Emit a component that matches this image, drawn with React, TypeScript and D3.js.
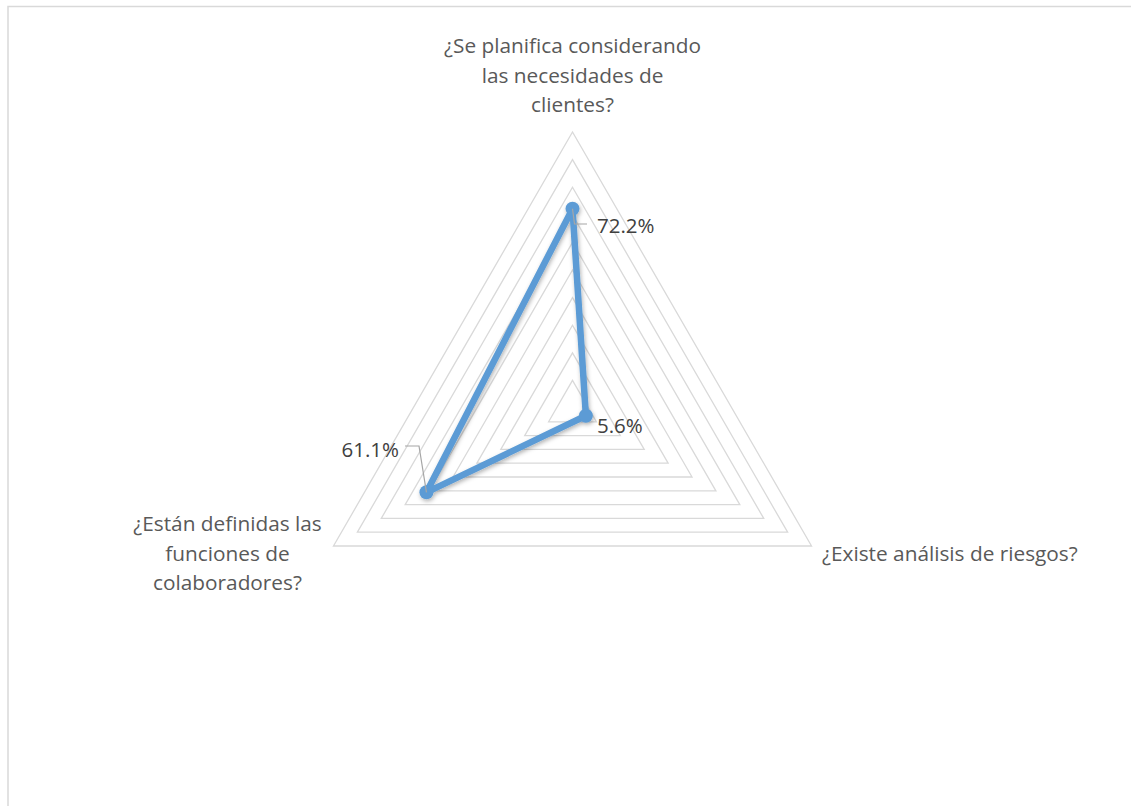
import React from "react";
import * as d3 from "d3";

const categories = [
  ["¿Se planifica considerando", "las necesidades de", "clientes?"],
  ["¿Existe análisis de riesgos?"],
  ["¿Están definidas las", "funciones de", "colaboradores?"],
];
const values = [0.722, 0.056, 0.611];
const valueLabels = ["72.2%", "5.6%", "61.1%"];
const gridLevels = [0.1, 0.2, 0.3, 0.4, 0.5, 0.6, 0.7, 0.8, 0.9, 1.0];

const W = 1131;
const H = 806;
const cx = 572.5;
const cy = 408;
const R = 276;
const FONT = "'Open Sans', sans-serif";

export default function App() {
  const n = categories.length;
  const angle = d3.scaleLinear().domain([0, n]).range([0, 2 * Math.PI]);
  const r = d3.scaleLinear().domain([0, 1]).range([0, R]);
  const pt = (i: number, v: number): [number, number] => {
    const a = angle(i);
    return [cx + r(v) * Math.sin(a), cy - r(v) * Math.cos(a)];
  };
  const radial = d3.line<[number, number]>().curve(d3.curveLinearClosed);
  const pts = values.map((v, i) => pt(i, v));

  const catPos = [
    { x: cx, y: 45, anchor: "middle" },
    { x: 822, y: 553, anchor: "start" },
    { x: 227.5, y: 523, anchor: "middle" },
  ];
  const valPos = [
    { x: 597, y: 225, anchor: "start" },
    { x: 597, y: 425, anchor: "start" },
    { x: 399, y: 449, anchor: "end" },
  ];
  const leaders = [
    [pts[0], [pts[0][0] + 2, 224], [587, 224]],
    null,
    [[405, 446], [419, 446], pts[2]],
  ];

  return (
    <svg
      width={W}
      height={H}
      style={{ position: "absolute", left: 0, top: 0, background: "#fff" }}
    >
      <defs>
        <filter id="sh" x="-20%" y="-20%" width="140%" height="140%">
          <feDropShadow dx="1" dy="2" stdDeviation="2" floodColor="#000" floodOpacity="0.3" />
        </filter>
      </defs>
      <rect x={8} y={6.5} width={W} height={H} fill="#fff" stroke="#d9d9d9" strokeWidth={1.5} />
      {gridLevels.map((g) => (
        <path
          key={g}
          d={radial(d3.range(n).map((i) => pt(i, g))) || ""}
          fill="none"
          stroke="#d9d9d9"
          strokeWidth={1.3}
        />
      ))}
      <g filter="url(#sh)">
        <path d={radial(pts) || ""} fill="none" stroke="#5b9bd5" strokeWidth={6.5} strokeLinejoin="round" />
        {pts.map((p, i) => (
          <circle key={i} cx={p[0]} cy={p[1]} r={7} fill="#5b9bd5" />
        ))}
      </g>
      {leaders.map((l, i) =>
        l ? (
          <polyline
            key={i}
            points={l.map((p) => p.join(",")).join(" ")}
            fill="none"
            stroke="#a6a6a6"
            strokeWidth={1.2}
          />
        ) : null
      )}
      {categories.map((lines, i) => (
        <text
          key={i}
          x={catPos[i].x}
          y={catPos[i].y}
          textAnchor={catPos[i].anchor as any}
          fontFamily={FONT}
          fontSize={20.8}
          fill="#595959"
          dominantBaseline="central"
        >
          {lines.map((ln, j) => (
            <tspan key={j} x={catPos[i].x} dy={j === 0 ? 0 : 29.5}>
              {ln}
            </tspan>
          ))}
        </text>
      ))}
      {valueLabels.map((t, i) => (
        <text
          key={i}
          x={valPos[i].x}
          y={valPos[i].y}
          textAnchor={valPos[i].anchor as any}
          fontFamily={FONT}
          fontSize={20.5}
          fill="#404040"
          dominantBaseline="central"
        >
          {t}
        </text>
      ))}
    </svg>
  );
}
